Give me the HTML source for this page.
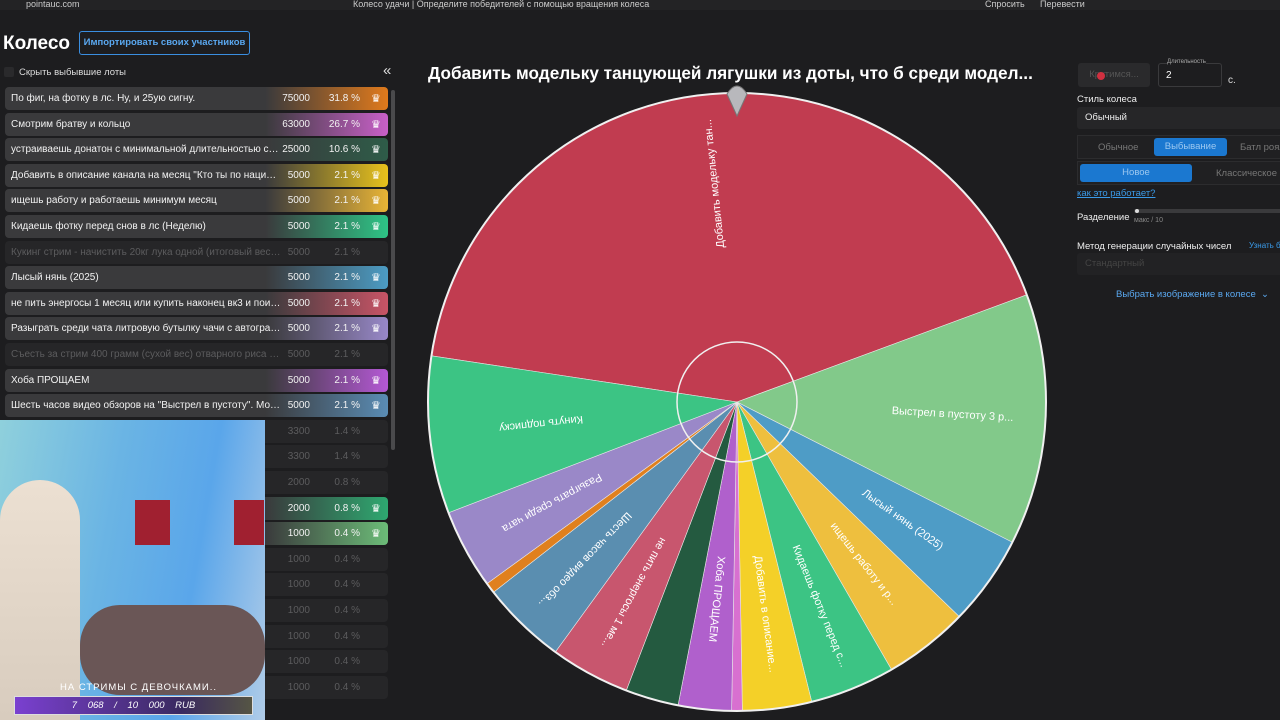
<!DOCTYPE html>
<html><head><meta charset="utf-8">
<style>
body{margin:0;width:1280px;height:720px;overflow:hidden;background:#1d1d1f;font-family:"Liberation Sans","Noto Sans CJK SC",sans-serif;color:#eee;position:relative}
.abs{position:absolute}
.row{position:absolute;left:5px;width:383px;height:23px;border-radius:4px;background:#3a3a3c;font-size:10px;color:#f2f2f2}
.row .nm{position:absolute;left:6px;top:6px;width:270px;white-space:nowrap;overflow:hidden;text-overflow:ellipsis}
.row .am{position:absolute;right:78px;top:6px}
.row .pc{position:absolute;right:28px;top:6px;font-weight:normal}
.row .ic{position:absolute;right:7px;top:5px;width:10px;height:12px;color:#fff;font-size:11px}
.row.off{background:#262628;color:#5a5a5c;text-decoration:line-through}
.row.off .nm,.row.off .am,.row.off .pc{color:#5c5c5e}
</style></head><body>
<div class="abs" style="left:0;top:0;width:1280px;height:10px;background:#232325;font-size:9px;color:#ccc">
<span class="abs" style="left:26px;top:-1px">pointauc.com</span>
<span class="abs" style="left:353px;top:-1px">Колесо удачи | Определите победителей с помощью вращения колеса</span>
<span class="abs" style="left:985px;top:-1px">Спросить</span>
<span class="abs" style="left:1040px;top:-1px">Перевести</span>
</div>
<div class="abs" style="left:3px;top:33px;font-size:19px;font-weight:bold;color:#fff">Колесо</div>
<div class="abs" style="left:79px;top:31px;width:169px;height:22px;border:1px solid #3a8ee0;border-radius:3px;font-size:9.5px;font-weight:bold;color:#5aa8f0;text-align:center;line-height:22px">Импортировать своих участников</div>
<div class="abs" style="left:4px;top:67px;width:10px;height:10px;background:#2a2a2c;border-radius:2px"></div>
<div class="abs" style="left:19px;top:67px;font-size:9.5px;color:#ddd">Скрыть выбывшие лоты</div>
<div class="abs" style="left:383px;top:62px;font-size:15px;color:#ddd">«</div>
<div class="abs" style="left:391px;top:90px;width:4px;height:360px;background:#4a4a4c;border-radius:2px"></div>
<div id="list"></div>

<div class="abs" style="left:0;top:420px;width:265px;height:300px;overflow:hidden;background:linear-gradient(100deg,#8fd0dc 0%,#6ab4e4 40%,#5aa6ea 70%,#b0cce8 100%)">
<div class="abs" style="left:0;top:60px;width:80px;height:240px;background:linear-gradient(180deg,#ece0d2,#d8ccbe);border-radius:40px 40px 0 0"></div>
<div class="abs" style="left:80px;top:185px;width:185px;height:90px;background:#6a5656;border-radius:40px"></div>
<div class="abs" style="left:135px;top:80px;width:35px;height:45px;background:#a02030"></div>
<div class="abs" style="left:234px;top:80px;width:30px;height:45px;background:#a02030"></div>
<div class="abs" style="left:60px;top:262px;font-size:9.5px;color:#fff;letter-spacing:1px">НА СТРИМЫ С ДЕВОЧКАМИ..</div>
<div class="abs" style="left:14px;top:276px;width:237px;height:17px;border:1px solid #ddd;background:linear-gradient(90deg,#7a40d0,#3a2a60 70%,#554);font-size:9.5px;color:#fff;font-style:italic;line-height:17px;text-align:center;word-spacing:8px">7 068 / 10 000 RUB</div>
</div>

<div class="abs" style="left:428px;top:63px;font-size:17.2px;font-weight:bold;color:#fff;white-space:nowrap">Добавить модельку танцующей лягушки из доты, что б среди модел...</div>
<svg class="abs" id="wheel" style="left:0;top:0" width="1280" height="720"></svg>

<div class="abs" style="left:1078px;top:63px;width:72px;height:24px;background:#2a2a2c;border-radius:3px;font-size:9.5px;color:#555;text-align:center;line-height:24px">Крутимся...</div>
<div class="abs" style="left:1097px;top:72px;width:8px;height:8px;border-radius:50%;background:#d03040"></div>
<div class="abs" style="left:1158px;top:63px;width:62px;height:22px;border:1px solid #3a3a3c;border-radius:3px">
<span class="abs" style="left:8px;top:-5px;font-size:6px;color:#aaa;background:#1d1d1f">Длительность</span>
<span class="abs" style="left:7px;top:6px;font-size:10px;color:#fff">2</span></div>
<div class="abs" style="left:1228px;top:75px;font-size:10px;color:#ddd">с.</div>
<div class="abs" style="left:1077px;top:94px;font-size:9.5px;color:#eee">Стиль колеса</div>
<div class="abs" style="left:1077px;top:107px;width:210px;height:22px;background:#262628;border-radius:3px;font-size:9.5px;color:#eee;line-height:22px;padding-left:8px">Обычный</div>
<div class="abs" style="left:1077px;top:135px;width:210px;height:22px;background:#202022;border:1px solid #2c2c2e;font-size:9.5px;color:#777">
<span class="abs" style="left:20px;top:6px">Обычное</span>
<span class="abs" style="left:76px;top:2px;width:73px;height:18px;background:#1b78d0;border-radius:3px;color:#9cc8f0;text-align:center;line-height:18px">Выбывание</span>
<span class="abs" style="left:162px;top:6px">Батл роял</span></div>
<div class="abs" style="left:1077px;top:161px;width:210px;height:22px;background:#202022;border:1px solid #2c2c2e;font-size:9.5px;color:#777">
<span class="abs" style="left:2px;top:2px;width:112px;height:18px;background:#1b78d0;border-radius:3px;color:#9cc8f0;text-align:center;line-height:18px">Новое</span>
<span class="abs" style="left:138px;top:6px">Классическое</span></div>
<div class="abs" style="left:1077px;top:188px;font-size:9.5px;color:#3a9ae8;text-decoration:underline">как это работает?</div>
<div class="abs" style="left:1077px;top:212px;font-size:9.5px;color:#eee">Разделение</div>
<div class="abs" style="left:1134px;top:209px;width:150px;height:4px;background:#3a3a3c;border-radius:2px"><span class="abs" style="left:1px;top:0;width:4px;height:4px;border-radius:50%;background:#ddd"></span></div>
<div class="abs" style="left:1134px;top:217px;font-size:7px;color:#888">макс / 10</div>
<div class="abs" style="left:1077px;top:241px;font-size:9.5px;color:#eee">Метод генерации случайных чисел</div>
<div class="abs" style="left:1249px;top:241px;font-size:8px;color:#3a9ae8;white-space:nowrap">Узнать б</div>
<div class="abs" style="left:1077px;top:253px;width:210px;height:22px;background:#222224;border-radius:3px;font-size:9.5px;color:#444;line-height:22px;padding-left:8px">Стандартный</div>
<div class="abs" style="left:1116px;top:289px;font-size:9.5px;color:#5aa8f0">Выбрать изображение в колесе &nbsp;⌄</div>

<script>
// Lot list data
var lotNames=["По фиг, на фотку в лс. Ну, и 25ую сигну.","Смотрим братву и кольцо","устраиваешь донатон с минимальной длительностью стрим...","Добавить в описание канала на месяц \"Кто ты по национальн...","ищешь работу и работаешь минимум месяц","Кидаешь фотку перед снов в лс (Неделю)","Кукинг стрим - начистить 20кг лука одной (итоговый вес чищ...","Лысый нянь (2025)","не пить энергосы 1 месяц или купить наконец вк3 и поиграц (...","Разыграть среди чата литровую бутылку чачи с автографом и...","Съесть за стрим 400 грамм (сухой вес) отварного риса БЕЗ Н...","Хоба ПРОЩАЕМ","Шесть часов видео обзоров на \"Выстрел в пустоту\". Можно в ...","","о...","","","","","","","ни...",""];
var lotAmounts=[75000,63000,25000,5000,5000,5000,5000,5000,5000,5000,5000,5000,5000,3300,3300,2000,2000,1000,1000,1000,1000,1000,1000,1000];
var lotPercents=["31.8","26.7","10.6","2.1","2.1","2.1","2.1","2.1","2.1","2.1","2.1","2.1","2.1","1.4","1.4","0.8","0.8","0.4","0.4","0.4","0.4","0.4","0.4","0.4"];
var lotColors=["#e07a1c","#c860c8","#2e5c48","#e8c21c","#e8b436","#2ec486","","#4c9cc4","#c85466","#9888c8","","#b458d4","#5a8cb4","","","","#2ea870","#6cbc78","","","","","",""];
var list=document.getElementById('list');
for(var i=0;i<lotAmounts.length;i++){
  var r=document.createElement('div');
  
  
  var c=lotColors[i];
  r.className='row'+(c?'':' off');
  r.style.top=(87+i*25.6)+'px';
  if(c) r.style.background='linear-gradient(90deg,#3a3a3c 0%,#3a3a3c 68%,'+c+' 100%)';
  r.innerHTML='<span class="nm">'+(lotNames[i]||'')+'</span><span class="am">'+lotAmounts[i]+'</span><span class="pc">'+lotPercents[i]+' %</span>'+(c?'<span class="ic">♛</span>':'');
  list.appendChild(r);
}
// Wheel data (slice sweep in degrees as displayed), clockwise from the red slice start
var sliceLabels=["Добавить модельку тан...","Выстрел в пустоту 3 р...","Лысый нянь (2025)","ищешь работу и р...","Кидаешь фотку перед с...","Добавить в описание...","","Хоба ПРОЩАЕМ","","не пить энергосы 1 ме...","Шесть часов видео обз...","","Разыграть среди чата","Кинуть подписку"];
var sliceSweeps=[151.1,47.3,17,16,16,13,2,10,10,15,16,2,15,29.6];
var sliceColors=["#c13c50","#82c98a","#4e9cc6","#eebf3e","#3cc484","#f4d028","#d870d0","#b060cc","#245a40","#c8566e","#5a8eb0","#e0801e","#9a88c8","#3cc484"];
var startAngle=278.6;
var cx=737,cy=402,R=309;
var svg=document.getElementById('wheel'),NS='http://www.w3.org/2000/svg';
function pt(a,r){var t=(a-90)*Math.PI/180;return [cx+r*Math.cos(t),cy+r*Math.sin(t)];}
var a=startAngle;
for(var k=0;k<sliceSweeps.length;k++){
  var a2=a+sliceSweeps[k],p1=pt(a,R),p2=pt(a2,R);
  var p=document.createElementNS(NS,'path');
  p.setAttribute('d','M'+cx+','+cy+' L'+p1[0]+','+p1[1]+' A'+R+','+R+' 0 '+(sliceSweeps[k]>180?1:0)+' 1 '+p2[0]+','+p2[1]+' Z');
  p.setAttribute('fill',sliceColors[k]);
  p.setAttribute('stroke','#e8e8e8');
  p.setAttribute('stroke-width','0.6');
  
  
  svg.appendChild(p);
  if(sliceLabels[k]){
    var m=a+sliceSweeps[k]/2,q=pt(m,155);
    var t=document.createElementNS(NS,'text');
    t.setAttribute('x',q[0]);t.setAttribute('y',q[1]);
    t.setAttribute('fill','#fff');t.setAttribute('font-size','11');
    t.setAttribute('dominant-baseline','middle');
    t.setAttribute('transform','rotate('+(m-90)+' '+q[0]+' '+q[1]+')');
    
    
    t.textContent=sliceLabels[k];
    svg.appendChild(t);
  }
  a=a2;
}
var ring=document.createElementNS(NS,'circle');
ring.setAttribute('cx',cx);ring.setAttribute('cy',cy);ring.setAttribute('r',R);
ring.setAttribute('fill','none');ring.setAttribute('stroke','#f0f0f0');ring.setAttribute('stroke-width','2');


svg.appendChild(ring);
var hub=document.createElementNS(NS,'circle');
hub.setAttribute('cx',cx);hub.setAttribute('cy',cy);hub.setAttribute('r',60);
hub.setAttribute('fill','none');hub.setAttribute('stroke','#f0f0f0');hub.setAttribute('stroke-width','1.5');


svg.appendChild(hub);
var pin=document.createElementNS(NS,'path');
pin.setAttribute('d','M727,94 Q737,78 747,94 L737,116 Z');
pin.setAttribute('fill','#b8b8bc');pin.setAttribute('stroke','#777');


svg.appendChild(pin);
</script>
</body></html>
